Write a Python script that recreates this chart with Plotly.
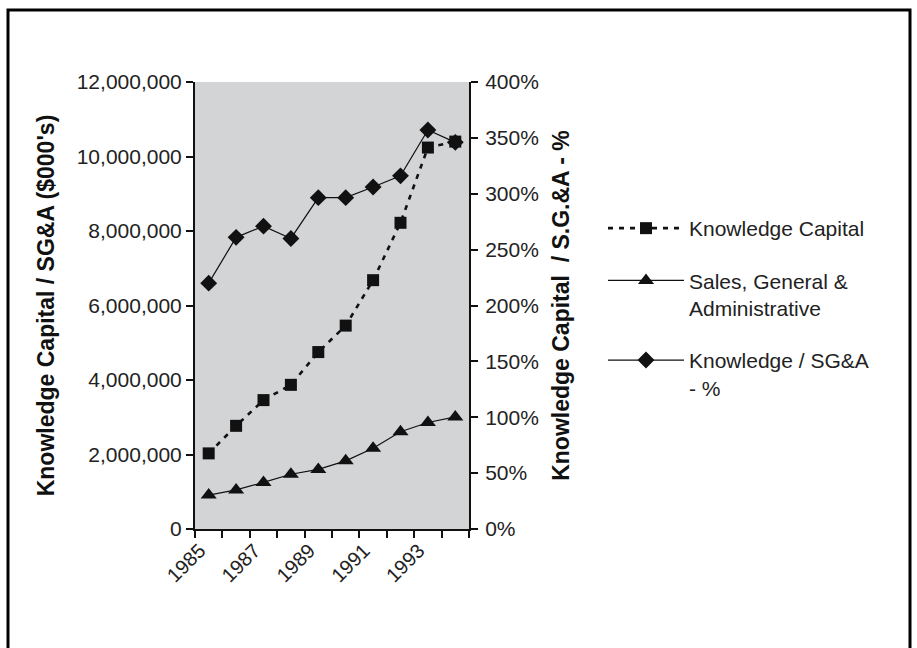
import plotly.graph_objects as go

years = ["1985", "1986", "1987", "1988", "1989", "1990", "1991", "1992", "1993", "1994"]
year_labels = ["1985", "", "1987", "", "1989", "", "1991", "", "1993", ""]

knowledge_capital = [2030000, 2770000, 3460000, 3870000, 4750000, 5460000, 6680000, 8220000, 10240000, 10400000]
sga = [910000, 1050000, 1250000, 1470000, 1600000, 1830000, 2170000, 2610000, 2860000, 3010000]
knowledge_to_sga = [2.20, 2.61, 2.71, 2.60, 2.965, 2.965, 3.06, 3.16, 3.57, 3.46]

left_ticks = [0, 2000000, 4000000, 6000000, 8000000, 10000000, 12000000]
right_ticks = [0, 0.5, 1.0, 1.5, 2.0, 2.5, 3.0, 3.5, 4.0]

FONT = "Liberation Sans, Arial, Helvetica, sans-serif"

fig = go.Figure()

fig.add_trace(go.Scatter(
    x=years, y=knowledge_capital, name="Knowledge Capital",
    mode="lines+markers", legendgroup="kc",
    line=dict(color="#111111", width=2.6, dash="5px,6px"),
    marker=dict(symbol="square", size=12, color="#111111"),
))
fig.add_trace(go.Scatter(
    x=years, y=sga, name="Sales, General &<br>Administrative",
    mode="lines+markers", legendgroup="sga",
    line=dict(color="#111111", width=1.2),
    marker=dict(symbol="triangle-up", size=14, color="#111111"),
))
fig.add_trace(go.Scatter(
    x=years, y=knowledge_to_sga, name="Knowledge / SG&A<br>- %",
    mode="lines+markers", legendgroup="ratio", yaxis="y2",
    line=dict(color="#111111", width=1.2),
    marker=dict(symbol="diamond", size=13, color="#111111"),
))

L, R, T, B = 195, 448, 82, 119
W, H = 917, 648
pw, ph = W - L - R, H - T - B

def px_to_paper_x(px):
    return (px - L) / pw

def px_to_paper_y(py):
    return (H - B - py) / ph

fig.update_layout(
    width=W, height=H,
    margin=dict(l=L, r=R, t=T, b=B, pad=0),
    paper_bgcolor="white",
    plot_bgcolor="#d3d4d6",
    font=dict(family=FONT, size=21, color="#222222"),
    showlegend=True,
    legend=dict(
        x=px_to_paper_x(603), y=px_to_paper_y(208),
        xanchor="left", yanchor="top",
        font=dict(family=FONT, size=21, color="#222222"),
        bgcolor="rgba(0,0,0,0)",
        tracegroupgap=22, itemwidth=76, valign="top",
    ),
    xaxis=dict(
        type="category",
        tickvals=years, ticktext=year_labels,
        tickson="boundaries",
        tickangle=-45,
        ticks="outside", ticklen=7, tickcolor="#111111", tickwidth=1.5,
        showline=True, linecolor="#111111", linewidth=2,
        showgrid=False, zeroline=False,
        tickfont=dict(family=FONT, size=20, color="#222222"),
        ticklabelshift=-9,
        range=[-0.5, 9.5],
    ),
    yaxis=dict(
        range=[0, 12000000], tickvals=left_ticks, tickformat=",d",
        ticks="outside", ticklen=7, tickcolor="#111111", tickwidth=1.5,
        showline=True, linecolor="#111111", linewidth=2,
        showgrid=False, zeroline=False,
        tickfont=dict(family=FONT, size=21, color="#222222"),
        title=dict(text="Knowledge Capital / SG&A ($000's)",
                   font=dict(family=FONT, size=23, color="#111111", weight="bold"),
                   standoff=16),
    ),
    yaxis2=dict(
        overlaying="y", side="right",
        range=[0, 4], tickvals=right_ticks, tickformat=".0%",
        ticks="outside", ticklen=7, tickcolor="#111111", tickwidth=1.5,
        showline=True, linecolor="#111111", linewidth=2,
        showgrid=False, zeroline=False,
        tickfont=dict(family=FONT, size=21, color="#222222"),
        ticklabelstandoff=3,
        title=dict(text="Knowledge Capital  / S.G.&A - %",
                   font=dict(family=FONT, size=23, color="#111111", weight="bold"),
                   standoff=15),
    ),
    shapes=[dict(
        type="rect", xref="paper", yref="paper",
        x0=px_to_paper_x(8), x1=px_to_paper_x(910),
        y0=px_to_paper_y(660), y1=px_to_paper_y(10),
        line=dict(color="black", width=3), fillcolor="rgba(0,0,0,0)",
        layer="above",
    )],
)

fig.write_html("out.html")
